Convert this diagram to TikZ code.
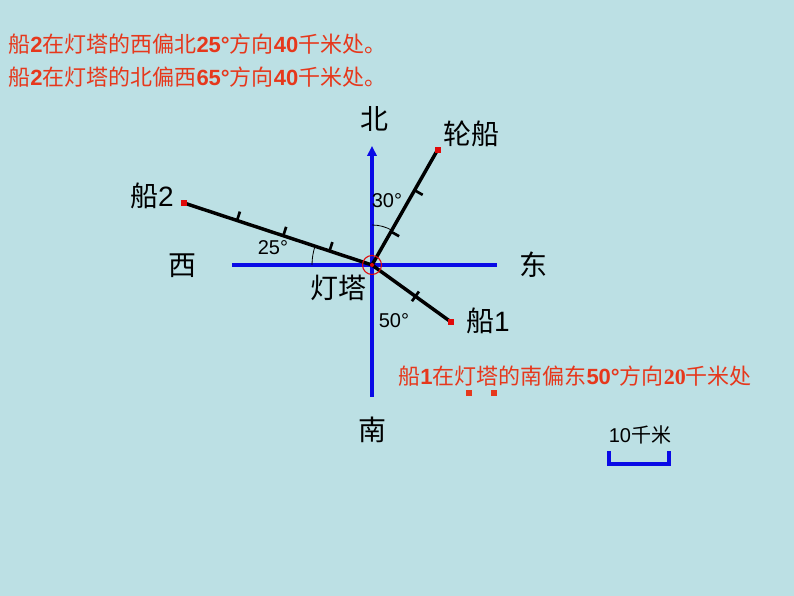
\documentclass[tikz,border=0pt]{standalone}
\usepackage{fontspec}
\setmainfont{Liberation Sans}
\newfontfamily\cjk{Noto Sans CJK SC}
\newfontfamily\tnr{Liberation Serif}
\usetikzlibrary{arrows.meta,calc}
\definecolor{bg}{RGB}{188,224,228}
\definecolor{txtred}{RGB}{230,56,28}
\definecolor{axisblue}{RGB}{10,10,230}
\definecolor{dotred}{RGB}{225,10,10}
\tikzset{
  axis/.style={axisblue, line width=2.3pt},
  route/.style={black, line width=2.6pt},
  tickmark/.style={black, line width=2pt},
  anglearc/.style={black, line width=0.6pt},
  dirlabel/.style={font=\fontsize{21}{24}\selectfont\cjk},
  shiplabel/.style={font=\fontsize{21}{24}\selectfont},
  deglabel/.style={font=\fontsize{15}{17}\selectfont},
  note/.style={txtred, font=\fontsize{16.5}{19}\selectfont, inner sep=0pt},
  endmark/.style={fill=dotred, minimum size=4.5pt, inner sep=0pt},
}
\begin{document}
\begin{tikzpicture}[x=0.75pt,y=0.75pt]
  \fill[bg] (0,0) rectangle (794,596);
  \useasboundingbox (0,0) rectangle (794,596);
  % compass axes
  \coordinate (O) at (372,331);
  \coordinate (W) at (232,331);
  \coordinate (E) at (497,331);
  \coordinate (S) at (372,199);
  \coordinate (N) at (372,450);
  \draw[axis] (W) -- (E);
  \draw[axis,-{Triangle[length=7.5pt,width=7pt]}] (S) -- (N);
  % routes to the ships
  \coordinate (ship2) at (184,393);
  \coordinate (steam) at (437.5,446);
  \coordinate (ship1) at (451,274);
  \draw[route] (O) -- (ship2);
  \draw[route] (O) -- (steam);
  \draw[route] (O) -- (ship1);
  \foreach \t in {0.226,0.472,0.718} {
    \coordinate (p) at ($(O)!\t!(ship2)$);
    \draw[tickmark] (p) -- ($(p)!7pt!-90:(ship2)$);
  }
  \foreach \t in {0.29,0.65} {
    \coordinate (p) at ($(O)!\t!(steam)$);
    \draw[tickmark] (p) -- ($(p)!7pt!-90:(steam)$);
  }
  \coordinate (p) at ($(O)!0.55!(ship1)$);
  \draw[tickmark] ($(p)!4.5pt!90:(ship1)$) -- ($(p)!4.5pt!-90:(ship1)$);
  \node[endmark] (m2) at (ship2) {};
  \node[endmark] (ms) at (steam) {};
  \node[endmark] (m1) at (ship1) {};
  % angles
  \draw[anglearc] ($(O)+(180:60)$) arc[start angle=180, end angle=161.75, radius=60];
  \draw[anglearc] ($(O)+(90:40)$) arc[start angle=90, end angle=60.3, radius=40];
  \node[deglabel] (a25) at (273,348) {25°};
  \node[deglabel] (a30) at (387,395) {30°};
  \node[deglabel] (a50) at (394,275) {50°};
  % lighthouse
  \draw[dotred, line width=0.8pt] (O) circle[radius=9.5];
  \fill[dotred] (O) circle[radius=2];
  % labels
  \node[dirlabel] (north) at (374,477) {北};
  \node[dirlabel] (west) at (182,330) {西};
  \node[dirlabel] (east) at (533,331) {东};
  \node[dirlabel] (south) at (372,166) {南};
  \node[shiplabel] (tower) at (338,308) {\cjk 灯塔};
  \node[shiplabel] (l2) at (152,400) {{\cjk 船}2};
  \node[shiplabel] (ls) at (471,462) {\cjk 轮船};
  \node[shiplabel] (l1) at (488,275) {{\cjk 船}1};
  % notes
  \node[note, anchor=west] (rule2a) at (8,552)
    {{\cjk 船}\textbf{2}{\cjk 在灯塔的西偏北}\textbf{25°}{\cjk 方向}\textbf{40}{\cjk 千米处。}};
  \node[note, anchor=west] (rule2b) at (8,519)
    {{\cjk 船}\textbf{2}{\cjk 在灯塔的北偏西}\textbf{65°}{\cjk 方向}\textbf{40}{\cjk 千米处。}};
  \node[note, anchor=west] (rule1) at (398,220)
    {{\cjk 船}\textbf{1}{\cjk 在灯塔的南偏东}\textbf{50°}{\cjk 方向}{\tnr\bfseries 20}{\cjk 千米处}};
  \node[fill=txtred, minimum size=4.5pt, inner sep=0pt] (dotA) at (469,203) {};
  \node[fill=txtred, minimum size=4.5pt, inner sep=0pt] (dotB) at (494,203) {};
  % scale bar
  \coordinate (barL) at (609,145);
  \coordinate (barR) at (669,145);
  \draw[axis, line width=3pt] (barL) -- ++(0,-13) -| (barR);
  \node[font=\fontsize{15}{17}\selectfont] (scale) at (640,161) {10{\cjk 千米}};
\end{tikzpicture}
\end{document}
